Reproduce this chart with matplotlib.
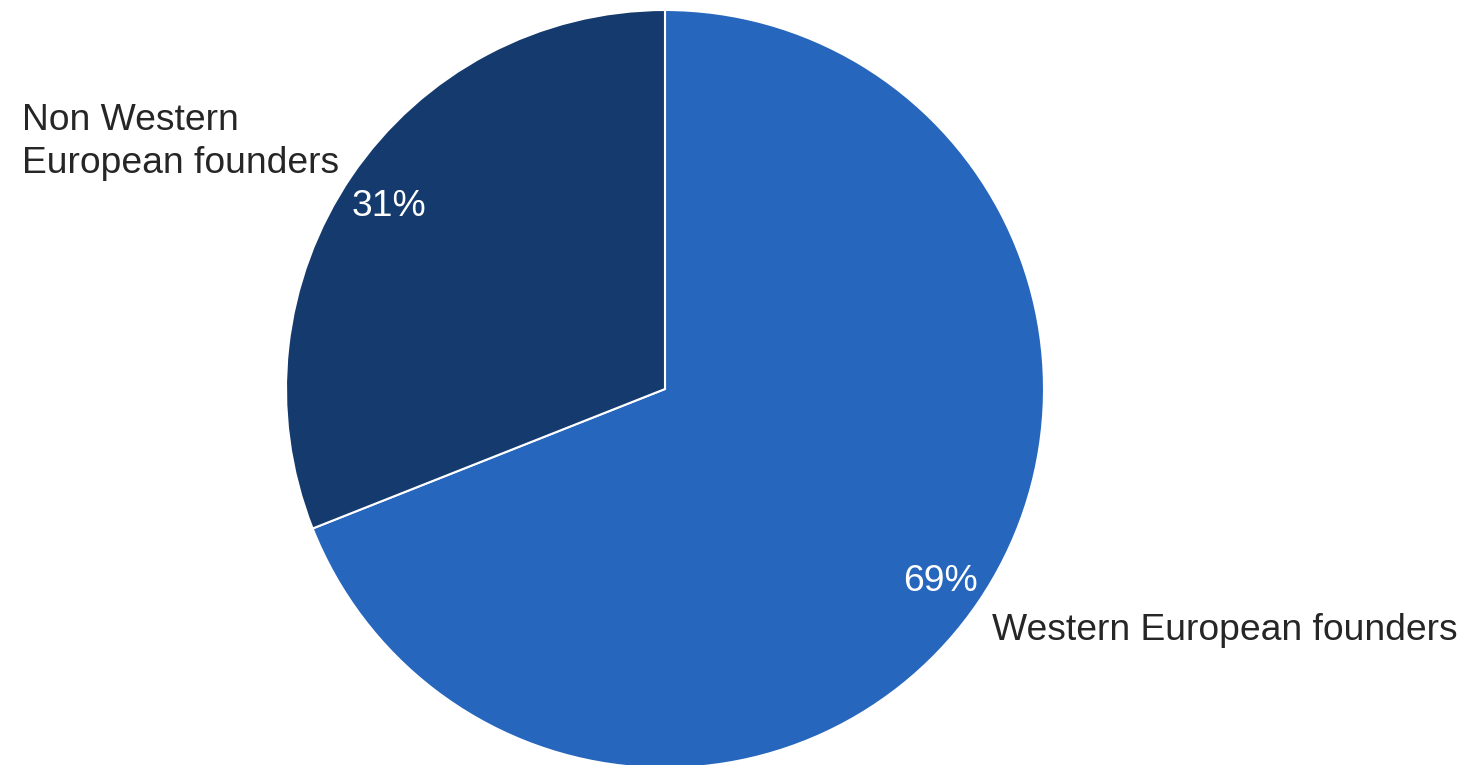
import matplotlib
matplotlib.use("Agg")
import matplotlib.pyplot as plt
import numpy as np

categories = ["Western European founders", "Non Western\nEuropean founders"]
shares = [69, 31]
pct_labels = ["69%", "31%"]
colors = ["#2666BC", "#143A6E"]

plt.rcParams['font.family'] = ['Liberation Sans', 'DejaVu Sans']

W, H = 1481, 765
fig = plt.figure(figsize=(W / 100, H / 100), dpi=100)
ax = fig.add_axes([0, 0, 1, 1])

cx, cy, r = 665, H - 389, 379
wedges, _ = ax.pie(shares, colors=colors, startangle=90, counterclock=False,
                   center=(cx, cy), radius=r, frame=True,
                   wedgeprops=dict(edgecolor='white', linewidth=1.5))
ax.set_xlim(0, W)
ax.set_ylim(0, H)
ax.set_aspect('equal')
ax.axis('off')

# percentage labels placed along each wedge's mid-angle
for w, lab in zip(wedges, pct_labels):
    ang = np.deg2rad((w.theta1 + w.theta2) / 2)
    ax.text(cx + 0.88 * r * np.cos(ang), cy + 0.88 * r * np.sin(ang) - 5, lab,
            ha='center', va='center', color='white', fontsize=26.8)

# category labels
ax.text(992, H - 630, categories[0], ha='left', va='center',
        color='#262626', fontsize=26.8)
ax.text(22, H - 142, categories[1], ha='left', va='center',
        color='#262626', fontsize=26.8, linespacing=1.33)

fig.savefig("out.png", dpi=100)
